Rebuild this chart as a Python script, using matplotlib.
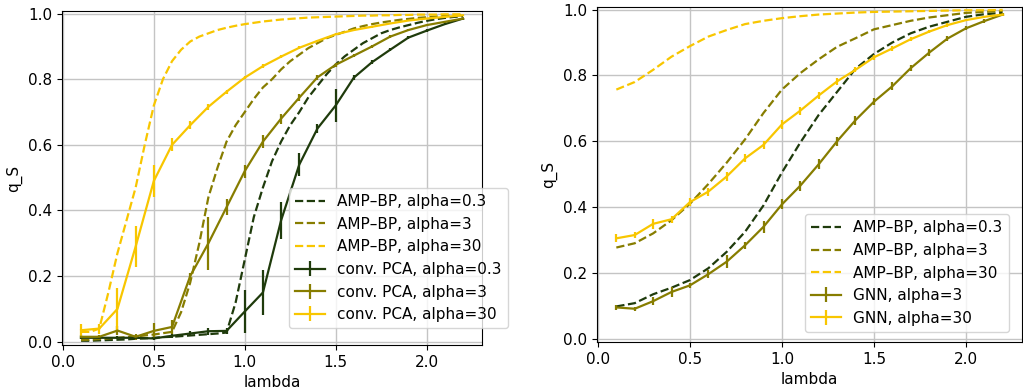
import numpy as np
import matplotlib
matplotlib.use("Agg")
import matplotlib.pyplot as plt

plt.rcParams["font.size"] = 11
plt.rcParams["lines.linewidth"] = 1.6
plt.rcParams["grid.color"] = "#c4c4c4"
plt.rcParams["grid.linewidth"] = 1.0

# colours of the three alpha values
c_03 = "#1f3b0c"
c_3 = "#877d00"
c_30 = "#f8c600"

# ---- left panel: AMP-BP vs conv. PCA ----
lam_amp_left = np.round(np.arange(0.1, 2.2001, 0.05), 2)
amp_left_03 = [0.003, 0.003, 0.004, 0.005, 0.006, 0.007, 0.009, 0.010, 0.012, 0.014,
               0.015, 0.017, 0.019, 0.021, 0.023, 0.025, 0.028, 0.12, 0.25, 0.38,
               0.47, 0.55, 0.61, 0.66, 0.70, 0.745, 0.78, 0.815, 0.845, 0.87,
               0.89, 0.91, 0.925, 0.94, 0.95, 0.958, 0.965, 0.972, 0.978, 0.983,
               0.987, 0.990, 0.992]
amp_left_3 = [0.005, 0.006, 0.008, 0.010, 0.012, 0.014, 0.016, 0.019, 0.022, 0.026,
              0.03, 0.09, 0.18, 0.30, 0.44, 0.53, 0.61, 0.66, 0.70, 0.74,
              0.775, 0.80, 0.83, 0.855, 0.875, 0.895, 0.91, 0.925, 0.935, 0.945,
              0.955, 0.962, 0.968, 0.973, 0.977, 0.981, 0.984, 0.987, 0.989, 0.991,
              0.993, 0.994, 0.995]
amp_left_30 = [0.03, 0.03, 0.04, 0.15, 0.27, 0.37, 0.47, 0.60, 0.72, 0.80,
               0.855, 0.89, 0.915, 0.93, 0.94, 0.95, 0.957, 0.963, 0.968, 0.972,
               0.976, 0.979, 0.982, 0.984, 0.986, 0.988, 0.989, 0.990, 0.991, 0.992,
               0.993, 0.994, 0.994, 0.995, 0.995, 0.996, 0.996, 0.997, 0.997, 0.997,
               0.998, 0.998, 0.998]

lam = np.round(np.arange(0.1, 2.2001, 0.1), 1)
pca_03 = [0.012, 0.012, 0.012, 0.012, 0.010, 0.018, 0.025, 0.032, 0.033, 0.092, 0.15,
          0.37, 0.54, 0.65, 0.72, 0.805, 0.852, 0.89, 0.927, 0.948, 0.968, 0.985]
pca_03_err = [0.004, 0.004, 0.004, 0.004, 0.004, 0.006, 0.008, 0.01, 0.01, 0.065, 0.07,
              0.056, 0.035, 0.015, 0.05, 0.008, 0.006, 0.005, 0.004, 0.004, 0.003, 0.003]
pca_3 = [0.015, 0.015, 0.034, 0.015, 0.033, 0.045, 0.20, 0.30, 0.41, 0.52, 0.61,
         0.68, 0.744, 0.806, 0.844, 0.872, 0.90, 0.93, 0.95, 0.965, 0.975, 0.985]
pca_3_err = [0.006, 0.006, 0.015, 0.01, 0.025, 0.02, 0.01, 0.08, 0.025, 0.02, 0.02,
             0.015, 0.01, 0.008, 0.006, 0.005, 0.004, 0.004, 0.003, 0.003, 0.003, 0.003]
pca_30 = [0.035, 0.04, 0.10, 0.29, 0.49, 0.60, 0.66, 0.716, 0.762, 0.805, 0.84,
          0.869, 0.896, 0.917, 0.937, 0.95, 0.96, 0.97, 0.979, 0.985, 0.99, 0.995]
pca_30_err = [0.018, 0.015, 0.063, 0.063, 0.05, 0.02, 0.012, 0.01, 0.006, 0.005, 0.005,
              0.004, 0.004, 0.003, 0.003, 0.003, 0.003, 0.002, 0.002, 0.002, 0.002, 0.002]

# ---- right panel: AMP-BP vs GNN ----
amp_right_03 = [0.098, 0.108, 0.135, 0.155, 0.178, 0.214, 0.264, 0.325, 0.405, 0.505, 0.596,
                0.68, 0.75, 0.82, 0.865, 0.90, 0.928, 0.948, 0.963, 0.978, 0.986, 0.99]
amp_right_3 = [0.277, 0.29, 0.32, 0.36, 0.41, 0.47, 0.535, 0.606, 0.686, 0.757, 0.807,
               0.849, 0.887, 0.913, 0.94, 0.953, 0.966, 0.976, 0.983, 0.99, 0.993, 0.996]
amp_right_30 = [0.757, 0.78, 0.817, 0.857, 0.889, 0.918, 0.938, 0.956, 0.966, 0.974, 0.98,
                0.985, 0.988, 0.991, 0.993, 0.994, 0.995, 0.996, 0.997, 0.998, 0.998, 0.999]
gnn_3 = [0.095, 0.091, 0.114, 0.142, 0.162, 0.196, 0.234, 0.284, 0.34, 0.408, 0.465,
         0.53, 0.60, 0.664, 0.72, 0.767, 0.822, 0.869, 0.912, 0.943, 0.965, 0.985]
gnn_3_err = [0.008, 0.006, 0.012, 0.014, 0.008, 0.012, 0.02, 0.01, 0.018, 0.015, 0.015,
             0.015, 0.014, 0.014, 0.01, 0.012, 0.01, 0.01, 0.008, 0.006, 0.005, 0.004]
gnn_30 = [0.305, 0.315, 0.349, 0.363, 0.415, 0.447, 0.493, 0.548, 0.589, 0.651, 0.693,
          0.739, 0.782, 0.817, 0.855, 0.882, 0.91, 0.933, 0.953, 0.968, 0.978, 0.985]
gnn_30_err = [0.012, 0.01, 0.015, 0.01, 0.012, 0.012, 0.015, 0.012, 0.012, 0.015, 0.012,
              0.012, 0.01, 0.008, 0.008, 0.008, 0.006, 0.005, 0.005, 0.004, 0.004, 0.003]

fig = plt.figure(figsize=(10.23, 3.92), dpi=100)
ax1 = fig.add_axes([0.0606, 0.1199, 0.4106, 0.852])
ax2 = fig.add_axes([0.5836, 0.1276, 0.4154, 0.8546])

ax1.plot(lam_amp_left, amp_left_03, "--", color=c_03, label="AMP–BP, alpha=0.3")
ax1.plot(lam_amp_left, amp_left_3, "--", color=c_3, label="AMP–BP, alpha=3")
ax1.plot(lam_amp_left, amp_left_30, "--", color=c_30, label="AMP–BP, alpha=30")
ax1.errorbar(lam, pca_03, yerr=pca_03_err, color=c_03, label="conv. PCA, alpha=0.3")
ax1.errorbar(lam, pca_3, yerr=pca_3_err, color=c_3, label="conv. PCA, alpha=3")
ax1.errorbar(lam, pca_30, yerr=pca_30_err, color=c_30, label="conv. PCA, alpha=30")

ax2.plot(lam, amp_right_03, "--", color=c_03, label="AMP–BP, alpha=0.3")
ax2.plot(lam, amp_right_3, "--", color=c_3, label="AMP–BP, alpha=3")
ax2.plot(lam, amp_right_30, "--", color=c_30, label="AMP–BP, alpha=30")
ax2.errorbar(lam, gnn_3, yerr=gnn_3_err, color=c_3, label="GNN, alpha=3")
ax2.errorbar(lam, gnn_30, yerr=gnn_30_err, color=c_30, label="GNN, alpha=30")

for ax in (ax1, ax2):
    ax.set_ylim(-0.01, 1.008)
    ax.set_xlabel("lambda")
    ax.set_ylabel("q_S")
    ax.grid(True)

ax1.legend(loc="lower right", bbox_to_anchor=(1.062, 0.05), borderaxespad=0)
ax2.legend(loc="lower right", bbox_to_anchor=(0.969, 0.03), borderaxespad=0)

fig.savefig("out.png", dpi=100)
